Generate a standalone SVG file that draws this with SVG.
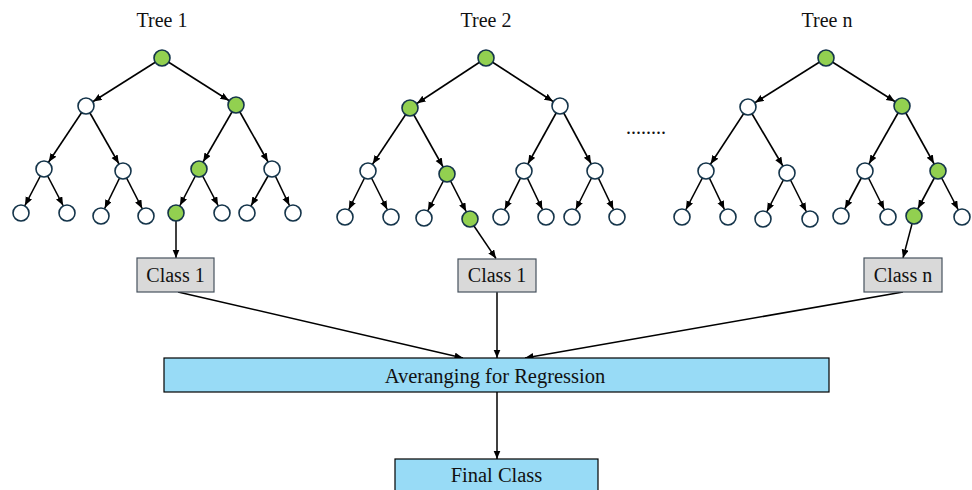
<svg xmlns="http://www.w3.org/2000/svg" width="972" height="490" viewBox="0 0 972 490">
<defs>
<marker id="ah" markerUnits="userSpaceOnUse" markerWidth="20" markerHeight="8" refX="17" refY="3.5" orient="auto">
<path d="M0,0 L8.5,3.5 L0,7 z" fill="#000"/>
</marker>
<marker id="ab" markerUnits="userSpaceOnUse" markerWidth="10" markerHeight="8" refX="8.5" refY="3.5" orient="auto">
<path d="M0,0 L8.5,3.5 L0,7 z" fill="#000"/>
</marker>
</defs>
<style>
text{font-family:"Liberation Serif","Times New Roman",serif;font-size:20px;fill:#111}
.big{font-size:20.5px}
.e{stroke:#000;stroke-width:1.6;marker-end:url(#ah)}
.c{stroke:#000;stroke-width:1.5;fill:none;marker-end:url(#ab)}
.n{fill:#fff;stroke:#14344a;stroke-width:1.6}
.g{fill:#92d050;stroke:#14344a;stroke-width:1.6}
.cls{fill:#d9d9d9;stroke:#46525e;stroke-width:1.2}
.blue{fill:#98dbf6;stroke:#000;stroke-width:1.2}
</style>
<rect width="972" height="490" fill="#fff"/>
<g id="titles">
<text x="162" y="27" text-anchor="middle">Tree 1</text>
<text x="486" y="27" text-anchor="middle">Tree 2</text>
<text x="827" y="27" text-anchor="middle">Tree n</text>
<text x="626" y="134" font-size="19">........</text>
</g>
<g id="tree-edges">
<line class="e" x1="162" y1="58" x2="86" y2="106"/>
<line class="e" x1="162" y1="58" x2="236" y2="105"/>
<line class="e" x1="86" y1="106" x2="44" y2="169"/>
<line class="e" x1="86" y1="106" x2="123" y2="171"/>
<line class="e" x1="236" y1="105" x2="199" y2="169"/>
<line class="e" x1="236" y1="105" x2="272" y2="169"/>
<line class="e" x1="44" y1="169" x2="21" y2="213"/>
<line class="e" x1="44" y1="169" x2="67" y2="213"/>
<line class="e" x1="123" y1="171" x2="101" y2="216"/>
<line class="e" x1="123" y1="171" x2="146" y2="216"/>
<line class="e" x1="199" y1="169" x2="176" y2="213"/>
<line class="e" x1="199" y1="169" x2="222" y2="213"/>
<line class="e" x1="272" y1="169" x2="247" y2="213"/>
<line class="e" x1="272" y1="169" x2="293" y2="213"/>

<line class="e" x1="486" y1="58" x2="410" y2="108"/>
<line class="e" x1="486" y1="58" x2="560" y2="106"/>
<line class="e" x1="410" y1="108" x2="368" y2="171"/>
<line class="e" x1="410" y1="108" x2="447" y2="174"/>
<line class="e" x1="560" y1="106" x2="524" y2="171"/>
<line class="e" x1="560" y1="106" x2="595" y2="171"/>
<line class="e" x1="368" y1="171" x2="345" y2="217"/>
<line class="e" x1="368" y1="171" x2="391" y2="217"/>
<line class="e" x1="447" y1="174" x2="424" y2="218"/>
<line class="e" x1="447" y1="174" x2="470" y2="219"/>
<line class="e" x1="524" y1="171" x2="501" y2="217"/>
<line class="e" x1="524" y1="171" x2="546" y2="217"/>
<line class="e" x1="595" y1="171" x2="572" y2="217"/>
<line class="e" x1="595" y1="171" x2="617" y2="217"/>

<line class="e" x1="826" y1="58" x2="748" y2="107"/>
<line class="e" x1="826" y1="58" x2="902" y2="106"/>
<line class="e" x1="748" y1="107" x2="706" y2="171"/>
<line class="e" x1="748" y1="107" x2="787" y2="173"/>
<line class="e" x1="902" y1="106" x2="865" y2="171"/>
<line class="e" x1="902" y1="106" x2="938" y2="171"/>
<line class="e" x1="706" y1="171" x2="682" y2="217"/>
<line class="e" x1="706" y1="171" x2="728" y2="217"/>
<line class="e" x1="787" y1="173" x2="763" y2="219"/>
<line class="e" x1="787" y1="173" x2="810" y2="219"/>
<line class="e" x1="865" y1="171" x2="841" y2="216"/>
<line class="e" x1="865" y1="171" x2="888" y2="217"/>
<line class="e" x1="938" y1="171" x2="914" y2="216"/>
<line class="e" x1="938" y1="171" x2="962" y2="217"/>
</g>
<g id="connectors">
<line class="c" x1="176" y1="221" x2="176" y2="258"/>
<line class="c" x1="474" y1="226" x2="496" y2="258.5"/>
<line class="c" x1="912" y1="224" x2="903" y2="258"/>
<line class="c" x1="178" y1="292" x2="463" y2="358"/>
<line class="c" x1="497" y1="292" x2="497" y2="358"/>
<line class="c" x1="903" y1="292" x2="525" y2="358"/>
<line class="c" x1="497" y1="392" x2="497" y2="459"/>
</g>
<g id="tree1-nodes">
<circle class="g" cx="162" cy="58" r="8"/>
<circle class="n" cx="86" cy="106" r="8"/>
<circle class="g" cx="236" cy="105" r="8"/>
<circle class="n" cx="44" cy="169" r="8"/>
<circle class="n" cx="123" cy="171" r="8"/>
<circle class="g" cx="199" cy="169" r="8"/>
<circle class="n" cx="272" cy="169" r="8"/>
<circle class="n" cx="21" cy="213" r="8"/>
<circle class="n" cx="67" cy="213" r="8"/>
<circle class="n" cx="101" cy="216" r="8"/>
<circle class="n" cx="146" cy="216" r="8"/>
<circle class="g" cx="176" cy="213" r="8"/>
<circle class="n" cx="222" cy="213" r="8"/>
<circle class="n" cx="247" cy="213" r="8"/>
<circle class="n" cx="293" cy="213" r="8"/>
</g>
<g id="tree2-nodes">
<circle class="g" cx="486" cy="58" r="8"/>
<circle class="g" cx="410" cy="108" r="8"/>
<circle class="n" cx="560" cy="106" r="8"/>
<circle class="n" cx="368" cy="171" r="8"/>
<circle class="g" cx="447" cy="174" r="8"/>
<circle class="n" cx="524" cy="171" r="8"/>
<circle class="n" cx="595" cy="171" r="8"/>
<circle class="n" cx="345" cy="217" r="8"/>
<circle class="n" cx="391" cy="217" r="8"/>
<circle class="n" cx="424" cy="218" r="8"/>
<circle class="g" cx="470" cy="219" r="8"/>
<circle class="n" cx="501" cy="217" r="8"/>
<circle class="n" cx="546" cy="217" r="8"/>
<circle class="n" cx="572" cy="217" r="8"/>
<circle class="n" cx="617" cy="217" r="8"/>
</g>
<g id="treen-nodes">
<circle class="g" cx="826" cy="58" r="8"/>
<circle class="n" cx="748" cy="107" r="8"/>
<circle class="g" cx="902" cy="106" r="8"/>
<circle class="n" cx="706" cy="171" r="8"/>
<circle class="n" cx="787" cy="173" r="8"/>
<circle class="n" cx="865" cy="171" r="8"/>
<circle class="g" cx="938" cy="171" r="8"/>
<circle class="n" cx="682" cy="217" r="8"/>
<circle class="n" cx="728" cy="217" r="8"/>
<circle class="n" cx="763" cy="219" r="8"/>
<circle class="n" cx="810" cy="219" r="8"/>
<circle class="n" cx="841" cy="216" r="8"/>
<circle class="n" cx="888" cy="217" r="8"/>
<circle class="g" cx="914" cy="216" r="8"/>
<circle class="n" cx="962" cy="217" r="8"/>
</g>
<g id="class1a">
<rect class="cls" x="137" y="258" width="77" height="34"/>
<text x="175.5" y="282" text-anchor="middle">Class 1</text>
</g>
<g id="class1b">
<rect class="cls" x="458" y="259" width="78" height="33"/>
<text x="497" y="282" text-anchor="middle">Class 1</text>
</g>
<g id="classn">
<rect class="cls" x="864" y="258" width="78" height="34"/>
<text x="903" y="282" text-anchor="middle">Class n</text>
</g>
<g id="averaging">
<rect class="blue" x="164" y="358" width="665" height="34"/>
<text class="big" x="495" y="383" text-anchor="middle">Averanging for Regression</text>
</g>
<g id="final">
<rect class="blue" x="395" y="459" width="203" height="40"/>
<text class="big" x="496.5" y="482" text-anchor="middle">Final Class</text>
</g>
</svg>
